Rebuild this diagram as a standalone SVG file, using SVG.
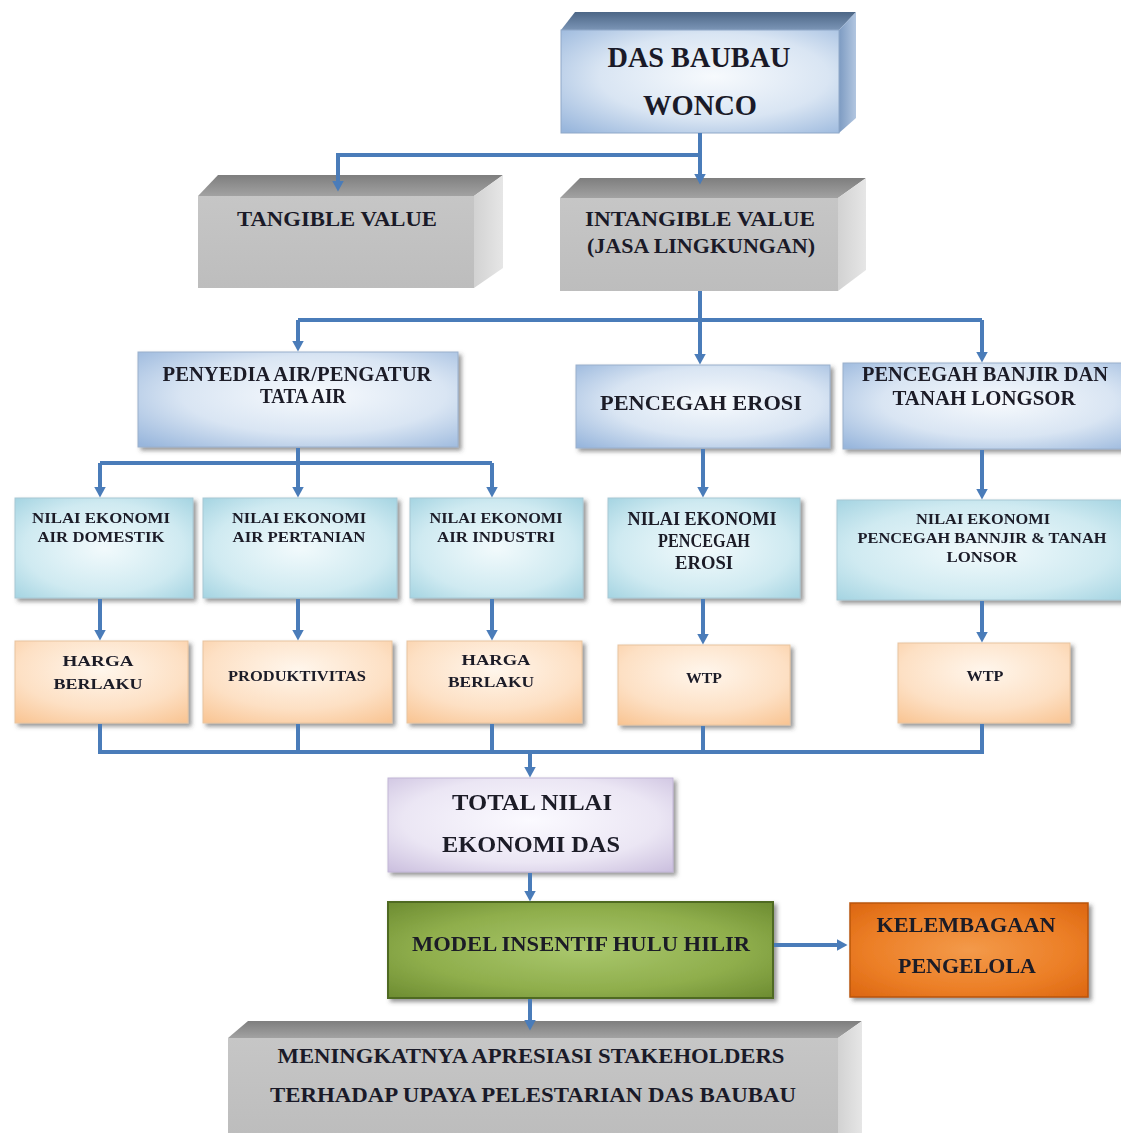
<svg xmlns="http://www.w3.org/2000/svg" width="1121" height="1133" viewBox="0 0 1121 1133">
<style>
.t{font-family:"Liberation Serif","Times New Roman",serif;font-weight:bold;fill:#1a1a28;text-anchor:middle}
.c{fill:none;stroke:#4a7cb9;stroke-width:4}
.ca{fill:none;stroke:#4a7cb9;stroke-width:4;marker-end:url(#ah)}
.blue{fill:url(#gBlue);stroke:#9ab0cc;stroke-width:1}
.cyan{fill:url(#gCyan);stroke:#a8c8d4;stroke-width:1}
.peach{fill:url(#gPeach);stroke:#e8c4a0;stroke-width:1}
.grayF{fill:url(#gGrayF)}
.grayT{fill:url(#gGrayT)}
.grayS{fill:url(#gGrayS)}
</style>
<defs>
<marker id="ah" viewBox="0 -6 11 12" refX="0.5" refY="0" markerWidth="11" markerHeight="12" markerUnits="userSpaceOnUse" orient="auto">
<path d="M0,-6 L11,0 L0,6 z" fill="#4a7cb9"/>
</marker>
<filter id="sh" x="-5%" y="-5%" width="115%" height="125%">
<feDropShadow dx="3" dy="3" stdDeviation="2" flood-color="#404040" flood-opacity="0.55"/>
</filter>
<radialGradient id="gBlue" cx="0.55" cy="0.45" r="0.75">
<stop offset="0" stop-color="#f7fafd"/>
<stop offset="0.55" stop-color="#d9e5f3"/>
<stop offset="1" stop-color="#98b6dc"/>
</radialGradient>
<radialGradient id="gCyan" cx="0.5" cy="0.5" r="0.75">
<stop offset="0" stop-color="#f2fafc"/>
<stop offset="0.6" stop-color="#cfeaf1"/>
<stop offset="1" stop-color="#9dd0df"/>
</radialGradient>
<radialGradient id="gPeach" cx="0.5" cy="0.35" r="0.8">
<stop offset="0" stop-color="#fff6ec"/>
<stop offset="0.6" stop-color="#fde0c4"/>
<stop offset="1" stop-color="#f9c594"/>
</radialGradient>
<radialGradient id="gLav" cx="0.5" cy="0.45" r="0.75">
<stop offset="0" stop-color="#fbfaff"/>
<stop offset="0.6" stop-color="#ebe6f4"/>
<stop offset="1" stop-color="#c9bddd"/>
</radialGradient>
<radialGradient id="gGreen" cx="0.5" cy="0.5" r="0.7">
<stop offset="0" stop-color="#a9c76c"/>
<stop offset="0.6" stop-color="#8fae4c"/>
<stop offset="1" stop-color="#6d8c31"/>
</radialGradient>
<radialGradient id="gOrange" cx="0.5" cy="0.5" r="0.7">
<stop offset="0" stop-color="#f39a4a"/>
<stop offset="0.6" stop-color="#ec7f27"/>
<stop offset="1" stop-color="#dc6610"/>
</radialGradient>
<linearGradient id="gGrayF" x1="0" y1="0" x2="0" y2="1">
<stop offset="0" stop-color="#c6c6c6"/>
<stop offset="1" stop-color="#bdbdbd"/>
</linearGradient>
<linearGradient id="gGrayT" x1="0" y1="0" x2="0" y2="1">
<stop offset="0" stop-color="#7e7e7e"/>
<stop offset="1" stop-color="#a2a2a2"/>
</linearGradient>
<linearGradient id="gGrayS" x1="0" y1="0" x2="1" y2="0">
<stop offset="0" stop-color="#d2d2d2"/>
<stop offset="1" stop-color="#e6e6e6"/>
</linearGradient>
<linearGradient id="gSlateT" x1="0" y1="0" x2="0" y2="1">
<stop offset="0" stop-color="#4c6686"/>
<stop offset="1" stop-color="#7b95b6"/>
</linearGradient>
<linearGradient id="gSlateS" x1="0" y1="0" x2="1" y2="0">
<stop offset="0" stop-color="#7d9bc2"/>
<stop offset="1" stop-color="#b2c6e0"/>
</linearGradient>
</defs>
<rect width="1121" height="1133" fill="#ffffff"/>

<g id="n-das">
<polygon points="561,30 575,12 856,12 839,30" fill="url(#gSlateT)"/>
<polygon points="839,30 856,12 856,118 839,133" fill="url(#gSlateS)"/>
<rect x="561" y="30" width="278" height="103" fill="url(#gBlue)" stroke="#8fa8c8"/>
<text class="t" x="699" y="67" font-size="29" textLength="183" lengthAdjust="spacingAndGlyphs">DAS BAUBAU</text>
<text class="t" x="700" y="115" font-size="29" textLength="114" lengthAdjust="spacingAndGlyphs">WONCO</text>
</g>

<g id="n-tangible">
<polygon points="198,196 218,175 503,175 474,196" class="grayT"/>
<polygon points="474,196 503,175 503,268 474,288" class="grayS"/>
<rect x="198" y="196" width="276" height="92" class="grayF"/>
<text class="t" x="337" y="226" font-size="22" textLength="200" lengthAdjust="spacingAndGlyphs">TANGIBLE VALUE</text>
</g>

<g id="n-intangible">
<polygon points="560,198 580,178 866,178 838,198" class="grayT"/>
<polygon points="838,198 866,178 866,270 838,291" class="grayS"/>
<rect x="560" y="198" width="278" height="93" class="grayF"/>
<text class="t" x="700" y="226" font-size="22" textLength="230" lengthAdjust="spacingAndGlyphs">INTANGIBLE  VALUE</text>
<text class="t" x="701" y="253" font-size="22" textLength="228" lengthAdjust="spacingAndGlyphs">(JASA LINGKUNGAN)</text>
</g>

<g id="n-penyedia" filter="url(#sh)">
<rect x="138" y="352" width="320" height="95" class="blue"/>
<text class="t" x="297" y="381" font-size="20" textLength="269" lengthAdjust="spacingAndGlyphs">PENYEDIA AIR/PENGATUR</text>
<text class="t" x="303" y="403" font-size="20" textLength="86" lengthAdjust="spacingAndGlyphs">TATA AIR</text>
</g>

<g id="n-erosi" filter="url(#sh)">
<rect x="576" y="365" width="254" height="83" class="blue"/>
<text class="t" x="701" y="410" font-size="21" textLength="202" lengthAdjust="spacingAndGlyphs">PENCEGAH EROSI</text>
</g>

<g id="n-banjir" filter="url(#sh)">
<rect x="843" y="363" width="282" height="86" class="blue"/>
<text class="t" x="985" y="381" font-size="20" textLength="246" lengthAdjust="spacingAndGlyphs">PENCEGAH BANJIR DAN</text>
<text class="t" x="984" y="405" font-size="20" textLength="183" lengthAdjust="spacingAndGlyphs">TANAH LONGSOR</text>
</g>

<g id="n-ne-domestik" filter="url(#sh)">
<rect x="15" y="498" width="178" height="100" class="cyan"/>
<text class="t" x="101" y="523" font-size="15" textLength="138" lengthAdjust="spacingAndGlyphs">NILAI EKONOMI</text>
<text class="t" x="101" y="542" font-size="15" textLength="127" lengthAdjust="spacingAndGlyphs">AIR DOMESTIK</text>
</g>

<g id="n-ne-pertanian" filter="url(#sh)">
<rect x="203" y="498" width="194" height="100" class="cyan"/>
<text class="t" x="299" y="523" font-size="15" textLength="134" lengthAdjust="spacingAndGlyphs">NILAI EKONOMI</text>
<text class="t" x="299" y="542" font-size="15" textLength="133" lengthAdjust="spacingAndGlyphs">AIR PERTANIAN</text>
</g>

<g id="n-ne-industri" filter="url(#sh)">
<rect x="410" y="498" width="173" height="100" class="cyan"/>
<text class="t" x="496" y="523" font-size="15" textLength="133" lengthAdjust="spacingAndGlyphs">NILAI EKONOMI</text>
<text class="t" x="496" y="542" font-size="15" textLength="118" lengthAdjust="spacingAndGlyphs">AIR INDUSTRI</text>
</g>

<g id="n-ne-erosi" filter="url(#sh)">
<rect x="608" y="498" width="192" height="100" class="cyan"/>
<text class="t" x="702" y="525" font-size="18" textLength="149" lengthAdjust="spacingAndGlyphs">NILAI EKONOMI</text>
<text class="t" x="704" y="547" font-size="18" textLength="92" lengthAdjust="spacingAndGlyphs">PENCEGAH</text>
<text class="t" x="704" y="569" font-size="18" textLength="58" lengthAdjust="spacingAndGlyphs">EROSI</text>
</g>

<g id="n-ne-banjir" filter="url(#sh)">
<rect x="837" y="500" width="288" height="100" class="cyan"/>
<text class="t" x="983" y="524" font-size="15" textLength="134" lengthAdjust="spacingAndGlyphs">NILAI EKONOMI</text>
<text class="t" x="982" y="543" font-size="15" textLength="249" lengthAdjust="spacingAndGlyphs">PENCEGAH BANNJIR &amp; TANAH</text>
<text class="t" x="982" y="562" font-size="15" textLength="71" lengthAdjust="spacingAndGlyphs">LONSOR</text>
</g>

<g id="n-harga1" filter="url(#sh)">
<rect x="15" y="641" width="173" height="82" class="peach"/>
<text class="t" x="98" y="666" font-size="15" textLength="71" lengthAdjust="spacingAndGlyphs">HARGA</text>
<text class="t" x="98" y="689" font-size="15" textLength="89" lengthAdjust="spacingAndGlyphs">BERLAKU</text>
</g>

<g id="n-produktivitas" filter="url(#sh)">
<rect x="203" y="641" width="189" height="82" class="peach"/>
<text class="t" x="297" y="681" font-size="15" textLength="138" lengthAdjust="spacingAndGlyphs">PRODUKTIVITAS</text>
</g>

<g id="n-harga2" filter="url(#sh)">
<rect x="407" y="641" width="175" height="82" class="peach"/>
<text class="t" x="496" y="665" font-size="15" textLength="69" lengthAdjust="spacingAndGlyphs">HARGA</text>
<text class="t" x="491" y="687" font-size="15" textLength="86" lengthAdjust="spacingAndGlyphs">BERLAKU</text>
</g>

<g id="n-wtp1" filter="url(#sh)">
<rect x="618" y="645" width="172" height="80" class="peach"/>
<text class="t" x="704" y="683" font-size="15" textLength="36" lengthAdjust="spacingAndGlyphs">WTP</text>
</g>

<g id="n-wtp2" filter="url(#sh)">
<rect x="898" y="643" width="172" height="80" class="peach"/>
<text class="t" x="985" y="681" font-size="15" textLength="37" lengthAdjust="spacingAndGlyphs">WTP</text>
</g>

<g id="n-total" filter="url(#sh)">
<rect x="388" y="778" width="285" height="94" fill="url(#gLav)" stroke="#c2b6d6"/>
<text class="t" x="532" y="810" font-size="24" textLength="160" lengthAdjust="spacingAndGlyphs">TOTAL NILAI</text>
<text class="t" x="531" y="852" font-size="24" textLength="178" lengthAdjust="spacingAndGlyphs">EKONOMI DAS</text>
</g>

<g id="n-model" filter="url(#sh)">
<rect x="388" y="902" width="385" height="96" fill="url(#gGreen)" stroke="#4f6a22" stroke-width="2"/>
<text class="t" x="581" y="951" font-size="21" textLength="338" lengthAdjust="spacingAndGlyphs">MODEL INSENTIF HULU HILIR</text>
</g>

<g id="n-kelembagaan" filter="url(#sh)">
<rect x="850" y="903" width="238" height="94" fill="url(#gOrange)" stroke="#b9550c" stroke-width="1.5"/>
<text class="t" x="966" y="932" font-size="21" textLength="179" lengthAdjust="spacingAndGlyphs">KELEMBAGAAN</text>
<text class="t" x="967" y="973" font-size="21" textLength="138" lengthAdjust="spacingAndGlyphs">PENGELOLA</text>
</g>

<g id="n-apresiasi">
<polygon points="228,1038 248,1021 862,1021 838,1038" class="grayT"/>
<polygon points="838,1038 862,1021 862,1133 838,1133" class="grayS"/>
<rect x="228" y="1038" width="610" height="95" class="grayF"/>
<text class="t" x="531" y="1063" font-size="21" textLength="507" lengthAdjust="spacingAndGlyphs">MENINGKATNYA APRESIASI STAKEHOLDERS</text>
<text class="t" x="533" y="1102" font-size="21" textLength="526" lengthAdjust="spacingAndGlyphs">TERHADAP UPAYA PELESTARIAN DAS BAUBAU</text>
</g>

<g id="connectors">
<path class="ca" d="M700,133 V174"/>
<path class="ca" d="M700,155 H338 V181"/>
<path class="c" d="M700,291 V320"/>
<path class="c" d="M298,320 H982"/>
<path class="ca" d="M298,320 V341"/>
<path class="ca" d="M700,320 V354"/>
<path class="ca" d="M982,320 V352"/>
<path class="c" d="M298,448 V463"/>
<path class="c" d="M100,463 H492"/>
<path class="ca" d="M100,463 V487"/>
<path class="ca" d="M298,463 V487"/>
<path class="ca" d="M492,463 V487"/>
<path class="ca" d="M703,449 V487"/>
<path class="ca" d="M982,450 V489"/>
<path class="ca" d="M100,599 V630"/>
<path class="ca" d="M298,599 V630"/>
<path class="ca" d="M492,599 V630"/>
<path class="ca" d="M703,599 V634"/>
<path class="ca" d="M982,601 V632"/>
<path class="c" d="M100,724 V752 H982 V724"/>
<path class="c" d="M298,724 V752"/>
<path class="c" d="M492,724 V752"/>
<path class="c" d="M703,726 V752"/>
<path class="ca" d="M530,752 V767"/>
<path class="ca" d="M530,873 V891"/>
<path class="ca" d="M774,945 H837"/>
<path class="ca" d="M530,999 V1020"/>
</g>
</svg>
